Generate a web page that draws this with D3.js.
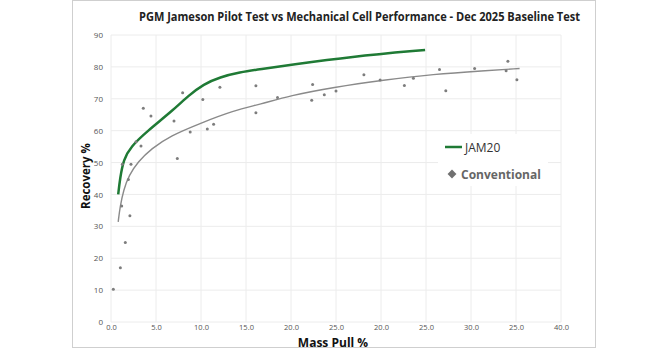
<!DOCTYPE html>
<html>
<head>
<meta charset="utf-8">
<script src="https://cdn.jsdelivr.net/npm/d3@7"></script>
<style>
  body { margin: 0; background: #fff; }
  svg text { font-family: "Open Sans", "Liberation Sans", sans-serif; }
</style>
</head>
<body>
<div id="chart"></div>
<script>
// x tick labels exactly as printed on the source chart
const xTickLabels = ['0.0','5.0','10.0','15.0','20.0','25.0','20.0','25.0','30.0','25.0','40.0'];
const yTicks = [0,10,20,30,40,50,60,70,80,90];

// JAM20 curve
const jamX = [0.8, 1.0, 1.4, 2.2, 4.0, 6.9, 8.6, 10.3, 12.1, 14.3, 16.6, 19.9, 26.6, 34.9];
const jamY = [40.0, 45.0, 51.0, 55.0, 59.8, 66.4, 71.0, 74.6, 76.8, 78.3, 79.3, 80.6, 83.2, 85.3];

// Conventional trend line
const convLineX = [0.8, 1.0, 1.4, 2.0, 3.0, 4.5, 6.6, 9.9, 13.6, 16.6, 19.9, 24.7, 30.3, 35.8, 41.4, 45.4];
const convLineY = [31.4, 36.0, 41.5, 46.0, 50.3, 54.4, 58.4, 62.3, 66.3, 68.3, 71.0, 73.6, 75.9, 77.7, 78.8, 79.5];

// Conventional measured points
const convX = [0.26, 1.04, 1.59, 2.1, 1.19, 1.93, 1.26, 2.22, 7.37, 2.78, 3.33, 3.59, 4.44, 7.0, 7.96, 8.8, 10.2, 10.7, 11.4, 12.1,
  16.1, 16.1, 18.5, 22.4, 22.3, 23.7, 25.0, 28.1, 29.9, 32.6, 33.6, 36.5, 37.2, 40.4, 44.1, 43.9, 45.1];
const convY = [10.3, 17.0, 24.9, 33.3, 36.4, 44.7, 49.5, 49.5, 51.3, 56.5, 55.2, 67.0, 64.6, 63.0, 71.9, 59.6, 69.8, 60.5, 62.0, 73.6,
  74.1, 65.6, 70.4, 74.5, 69.5, 71.3, 72.4, 77.5, 75.9, 74.2, 76.4, 79.2, 72.5, 79.5, 81.8, 78.8, 76.0];

const W = 667, H = 350;
const margin = {top: 35, right: 106, bottom: 28, left: 111};
const width = W - margin.left - margin.right;
const height = H - margin.top - margin.bottom;

const svg = d3.select('#chart')
  .append('svg')
  .attr('width', W)
  .attr('height', H);

// outer frame
svg.append('rect')
  .attr('x', 72.5).attr('y', 0.5)
  .attr('width', 523).attr('height', 347)
  .attr('fill', '#fff')
  .attr('stroke', '#cfcfcf');

svg.append('text')
  .attr('x', 139).attr('y', 21)
  .attr('textLength', 441)
  .attr('lengthAdjust', 'spacingAndGlyphs')
  .attr('font-size', 13)
  .attr('font-weight', 'bold')
  .attr('fill', '#222')
  .text('PGM Jameson Pilot Test vs Mechanical Cell Performance - Dec 2025 Baseline Test');

const g = svg.append('g')
  .attr('transform', `translate(${margin.left}, ${margin.top})`);

const x = d3.scaleLinear().domain([0, 50]).range([0, width]);
const y = d3.scaleLinear().domain([0, 90]).range([height, 0]);
const xTickVals = d3.range(0, 51, 5);

// grid
g.append('g')
  .selectAll('line')
  .data(xTickVals)
  .join('line')
  .attr('x1', d => x(d)).attr('x2', d => x(d))
  .attr('y1', 0).attr('y2', height)
  .attr('stroke', '#ececec');
g.append('g')
  .selectAll('line')
  .data(yTicks)
  .join('line')
  .attr('x1', 0).attr('x2', width)
  .attr('y1', d => y(d)).attr('y2', d => y(d))
  .attr('stroke', '#ececec');

const xAxis = g.append('g')
  .attr('transform', `translate(0, ${height})`)
  .call(d3.axisBottom(x).tickValues(xTickVals).tickSize(0).tickPadding(3)
    .tickFormat((d, i) => xTickLabels[i]));
xAxis.select('.domain').remove();
xAxis.selectAll('text').attr('font-size', 7.5).attr('fill', '#555');

const yAxis = g.append('g')
  .call(d3.axisLeft(y).tickValues(yTicks).tickSize(0).tickPadding(8));
yAxis.select('.domain').remove();
yAxis.selectAll('text').attr('font-size', 8).attr('fill', '#555');

// axis titles
svg.append('text')
  .attr('x', 333).attr('y', 346.5)
  .attr('text-anchor', 'middle')
  .attr('font-size', 12).attr('font-weight', 'bold').attr('fill', '#111')
  .text('Mass Pull %');
svg.append('text')
  .attr('transform', 'translate(90, 176) rotate(-90)')
  .attr('text-anchor', 'middle')
  .attr('font-size', 11.5).attr('font-weight', 'bold').attr('fill', '#111')
  .text('Recovery %');

// legend background
svg.append('rect')
  .attr('x', 438).attr('y', 134).attr('width', 110).attr('height', 52)
  .attr('fill', '#fff');

const line = d3.line().x(d => x(d[0])).y(d => y(d[1])).curve(d3.curveBasis);

g.append('path')
  .datum(d3.zip(convLineX, convLineY))
  .attr('d', line)
  .attr('fill', 'none')
  .attr('stroke', '#8a8a8a')
  .attr('stroke-width', 1.4);

g.append('path')
  .datum(d3.zip(jamX, jamY))
  .attr('d', line)
  .attr('fill', 'none')
  .attr('stroke', '#1f7a35')
  .attr('stroke-width', 2.5);

g.append('g')
  .selectAll('circle')
  .data(d3.zip(convX, convY))
  .join('circle')
  .attr('cx', d => x(d[0]))
  .attr('cy', d => y(d[1]))
  .attr('r', 1.5)
  .attr('fill', '#7d7d7d');

// legend
const lg = svg.append('g');
lg.append('line')
  .attr('x1', 445).attr('x2', 462).attr('y1', 147).attr('y2', 147)
  .attr('stroke', '#1f7a35').attr('stroke-width', 2.5);
lg.append('text')
  .attr('x', 465).attr('y', 151.5)
  .attr('font-size', 12).attr('fill', '#333')
  .text('JAM20');
lg.append('path')
  .attr('d', d3.symbol(d3.symbolDiamond2, 50)())
  .attr('transform', 'translate(452, 174)')
  .attr('fill', '#707070');
lg.append('text')
  .attr('x', 461).attr('y', 178.5)
  .attr('font-size', 12).attr('font-weight', 'bold').attr('fill', '#666')
  .text('Conventional');
</script>
</body>
</html>
